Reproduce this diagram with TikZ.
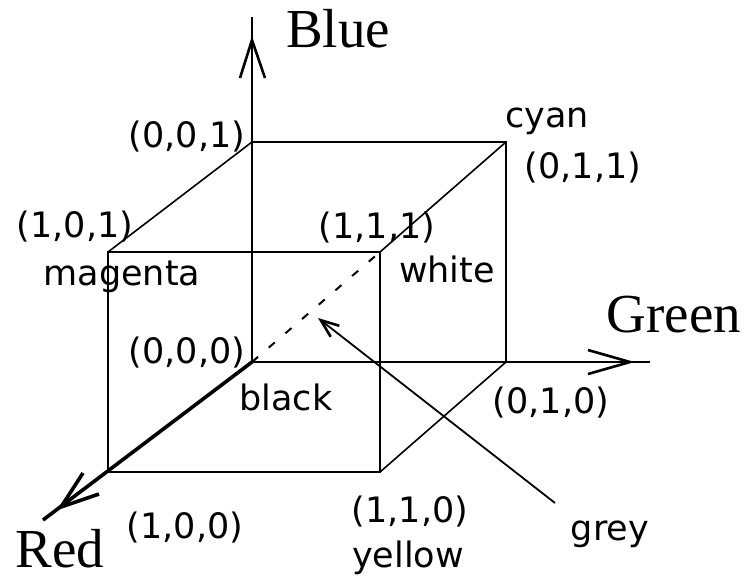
\documentclass[tikz,border=0pt]{standalone}
\usepackage{fontspec}
\setmainfont{Liberation Serif}
\newfontfamily\lblfont{DejaVu Sans}
\usetikzlibrary{arrows.meta}
\begin{document}
\begin{tikzpicture}[x=1pt,y=-1pt,
  lbl/.style={font=\lblfont\fontsize{35}{38}\selectfont, inner sep=0pt, anchor=base},
  axlbl/.style={font=\fontsize{55}{60}\selectfont, inner sep=0pt, anchor=base},
  edge/.style={line width=2.6pt},
  thinedge/.style={line width=1.6pt},
  redaxis/.style={line width=3.6pt},
  barb/.style={line width=2.6pt},
  diag/.style={line width=2pt, dash pattern=on 8pt off 14pt},
  pointer/.style={line width=1.8pt, -{Straight Barb[length=18pt,width=14pt,line width=2.6pt]}}]
\useasboundingbox (0,0) rectangle (751,579);
% cube vertices
\coordinate (O) at (252,362);
\coordinate (B) at (252,142);
\coordinate (G) at (506,362);
\coordinate (C) at (506,142);
\coordinate (R) at (108,472);
\coordinate (Y) at (380,472);
\coordinate (M) at (108,252);
\coordinate (W) at (380,252);
% axis ends
\coordinate (Btip) at (252,17);
\coordinate (Bmeet) at (252,40);
\coordinate (Ba1) at (240,78);
\coordinate (Ba2) at (265,78);
\coordinate (Gtip) at (650,362);
\coordinate (Gmeet) at (630,362);
\coordinate (Ga1) at (588,350);
\coordinate (Ga2) at (588,374);
\coordinate (Rtip) at (43,520);
\coordinate (Rmeet) at (61,507);
\coordinate (Ra1) at (83,473);
\coordinate (Ra2) at (99,494);
\coordinate (Pstart) at (555,503);
\coordinate (Ptip) at (318,318);
% axes
\draw[edge] (O) -- (Btip);
\draw[barb] (Ba1) -- (Bmeet) -- (Ba2);
\draw[edge] (O) -- (Gtip);
\draw[barb] (Ga1) -- (Gmeet) -- (Ga2);
\draw[redaxis] (O) -- (Rtip);
\draw[redaxis] (Ra1) -- (Rmeet) -- (Ra2);
% cube edges
\draw[edge] (B) -- (C) -- (G);
\draw[edge] (M) -- (W) -- (Y) -- (R) -- cycle;
\draw[thinedge] (M) -- (B);
\draw[thinedge] (W) -- (C);
\draw[thinedge] (Y) -- (G);
% grey diagonal
\draw[diag] (O) -- (W);
\draw[pointer] (Pstart) -- (Ptip);
% axis labels
\node[axlbl] (lBlue) at (338,47) {Blue};
\node[axlbl] (lGreen) at (674,332) {Green};
\node[axlbl] (lRed) at (60,567) {Red};
% vertex labels
\node[lbl] (l001) at (187,147) {(0,0,1)};
\node[lbl] (lcyan) at (547,127) {cyan};
\node[lbl] (l011) at (583,178) {(0,1,1)};
\node[lbl] (l101) at (75,237) {(1,0,1)};
\node[lbl] (lmag) at (122,285) {magenta};
\node[lbl] (l111) at (377,238) {(1,1,1)};
\node[lbl] (lwhite) at (447,282) {white};
\node[lbl] (l000) at (187,363) {(0,0,0)};
\node[lbl] (lblack) at (286,410) {black};
\node[lbl] (l010) at (551,413) {(0,1,0)};
\node[lbl] (l100) at (185,538) {(1,0,0)};
\node[lbl] (l110) at (410,522) {(1,1,0)};
\node[lbl] (lyellow) at (408,567) {yellow};
\node[lbl] (lgrey) at (610,540) {grey};
\end{tikzpicture}
\end{document}
